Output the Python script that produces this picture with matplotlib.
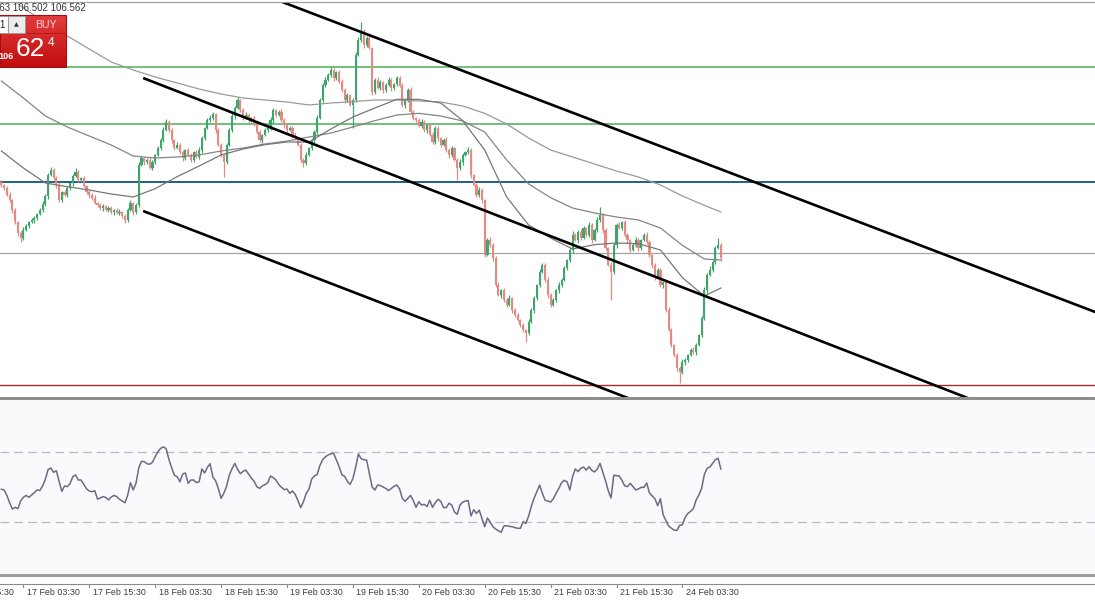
import matplotlib
matplotlib.use("Agg")
import matplotlib.pyplot as plt
import numpy as np
from matplotlib.patches import Rectangle
from matplotlib.transforms import blended_transform_factory

plt.rcParams['font.family'] = ['Liberation Sans', 'DejaVu Sans']

# ---------------- data (30-minute bars, price) ----------------
first_open = 106.774
closes = [
    106.765, 106.756, 106.735, 106.720, 106.690, 106.654, 106.621, 106.606, 106.630, 106.642,
    106.654, 106.660, 106.666, 106.678, 106.690, 106.708, 106.732, 106.795, 106.810, 106.786,
    106.765, 106.720, 106.744, 106.735, 106.756, 106.771, 106.792, 106.804, 106.780, 106.786,
    106.762, 106.744, 106.735, 106.726, 106.711, 106.705, 106.696, 106.702, 106.690, 106.696,
    106.684, 106.690, 106.681, 106.684, 106.672, 106.660, 106.690, 106.711, 106.684, 106.705,
    106.825, 106.846, 106.834, 106.840, 106.816, 106.834, 106.855, 106.876, 106.900, 106.930,
    106.954, 106.930, 106.900, 106.876, 106.885, 106.864, 106.846, 106.870, 106.855, 106.840,
    106.864, 106.849, 106.870, 106.906, 106.936, 106.960, 106.966, 106.978, 106.930, 106.885,
    106.855, 106.834, 106.885, 106.930, 106.972, 106.996, 107.020, 106.990, 106.966, 106.975,
    106.960, 106.966, 106.945, 106.924, 106.900, 106.915, 106.930, 106.936, 106.960, 106.990,
    106.975, 106.984, 106.960, 106.945, 106.930, 106.936, 106.915, 106.906, 106.885, 106.840,
    106.831, 106.855, 106.876, 106.900, 106.924, 106.966, 107.020, 107.065, 107.080, 107.095,
    107.110, 107.086, 107.104, 107.074, 107.050, 107.020, 107.035, 107.005, 107.020, 107.155,
    107.200, 107.224, 107.185, 107.206, 107.176, 107.044, 107.080, 107.056, 107.074, 107.050,
    107.065, 107.080, 107.056, 107.068, 107.086, 107.062, 107.005, 107.020, 107.050, 106.984,
    106.966, 106.960, 106.942, 106.954, 106.930, 106.945, 106.915, 106.894, 106.936, 106.906,
    106.885, 106.900, 106.870, 106.855, 106.876, 106.840, 106.816, 106.834, 106.855, 106.864,
    106.870, 106.795, 106.765, 106.735, 106.750, 106.720, 106.555, 106.600, 106.585, 106.546,
    106.465, 106.435, 106.450, 106.420, 106.405, 106.426, 106.390, 106.375, 106.360, 106.345,
    106.330, 106.321, 106.354, 106.390, 106.426, 106.465, 106.504, 106.525, 106.480, 106.435,
    106.405, 106.420, 106.450, 106.465, 106.480, 106.516, 106.540, 106.570, 106.615, 106.600,
    106.624, 106.606, 106.636, 106.615, 106.645, 106.600, 106.630, 106.660, 106.675, 106.630,
    106.576, 106.525, 106.504, 106.585, 106.645, 106.636, 106.654, 106.615, 106.600, 106.570,
    106.585, 106.600, 106.576, 106.600, 106.615, 106.594, 106.555, 106.525, 106.486, 106.510,
    106.465, 106.474, 106.390, 106.330, 106.285, 106.255, 106.216, 106.204, 106.234, 106.240,
    106.255, 106.270, 106.264, 106.285, 106.315, 106.366, 106.450, 106.495, 106.510, 106.534,
    106.576, 106.585, 106.546,
]
# wick extents beyond the body, in 0.001 price units
upper_wick = [
    6, 3, 6, 9, 3, 6, 3, 6, 9, 6,  3, 6, 6, 3, 6, 9, 6, 6, 9, 6,
    6, 9, 3, 6, 6, 3, 6, 12, 6, 3,  6, 3, 6, 6, 9, 3, 6, 6, 3, 6,
    6, 3, 6, 9, 3, 6, 6, 9, 3, 6,  9, 6, 3, 6, 9, 6, 3, 6, 6, 9,
    9, 6, 6, 3, 9, 6, 6, 3, 6, 6,  3, 6, 9, 6, 3, 6, 9, 6, 3, 6,
    6, 3, 6, 6, 9, 6, 9, 3, 6, 9,  6, 3, 6, 9, 6, 3, 6, 6, 9, 6,
    3, 6, 9, 6, 3, 6, 6, 9, 3, 6,  6, 9, 3, 6, 6, 9, 6, 6, 9, 6,
    9, 6, 3, 6, 9, 6, 6, 3, 6, 9,  9, 30, 9, 6, 6, 3, 6, 9, 6, 3,
    6, 9, 6, 3, 6, 6, 9, 3, 6, 9,  6, 3, 6, 9, 6, 3, 6, 9, 6, 6,
    3, 6, 9, 6, 6, 3, 6, 9, 6, 3,  9, 6, 3, 6, 9, 6, 3, 6, 9, 6,
    6, 9, 3, 6, 6, 9, 3, 6, 6, 3,  6, 3, 9, 6, 6, 3, 9, 6, 6, 9,
    6, 6, 3, 9, 6, 6, 3, 9, 12, 6,  6, 9, 6, 3, 9, 6, 6, 9, 24, 6,
    6, 3, 9, 6, 6, 9, 3, 6, 6, 3,  6, 9, 6, 3, 6, 9, 6, 3, 6, 6,
    6, 3, 6, 9, 6, 3, 6, 6, 9, 6,  3, 6, 9, 6, 3, 6, 9, 6, 12, 6,
    6, 21, 6,
]
lower_wick = [
    6, 6, 3, 6, 9, 6, 9, 12, 6, 3,  6, 3, 9, 6, 3, 6, 6, 9, 3, 6,
    9, 6, 6, 3, 6, 6, 9, 3, 6, 6,  3, 6, 9, 6, 3, 6, 6, 9, 3, 6,
    6, 9, 3, 6, 6, 9, 6, 3, 9, 6,  6, 3, 9, 6, 3, 6, 6, 3, 6, 6,
    3, 6, 9, 6, 3, 6, 9, 6, 3, 6,  6, 3, 6, 9, 6, 3, 6, 6, 9, 3,
    6, 45, 6, 3, 6, 9, 3, 6, 6, 3,  9, 6, 3, 6, 6, 9, 3, 6, 6, 9,
    6, 3, 6, 9, 6, 3, 9, 6, 3, 6,  12, 6, 3, 6, 9, 6, 3, 6, 6, 3,
    6, 9, 6, 3, 6, 9, 6, 3, 69, 6,  3, 6, 9, 6, 3, 9, 6, 3, 6, 9,
    6, 3, 9, 6, 6, 3, 6, 9, 6, 3,  6, 9, 3, 6, 6, 9, 3, 6, 6, 9,
    6, 3, 6, 9, 6, 3, 36, 6, 9, 3,  6, 9, 3, 6, 6, 9, 6, 3, 6, 9,
    6, 3, 9, 6, 6, 3, 9, 6, 3, 6,  6, 27, 6, 3, 9, 6, 6, 3, 6, 9,
    6, 3, 6, 9, 6, 3, 6, 6, 9, 3,  9, 6, 3, 6, 6, 9, 3, 6, 6, 9,
    6, 3, 84, 6, 9, 3, 6, 6, 9, 6,  3, 6, 9, 6, 3, 6, 6, 9, 6, 3,
    6, 9, 6, 3, 6, 6, 9, 33, 6, 9,  6, 3, 6, 9, 3, 6, 6, 9, 3, 6,
    6, 3, 9,
]
rsi = [
    48.7, 48.3, 45.2, 41.0, 37.4, 38.4, 37.6, 42.0, 44.1, 45.2,
    44.1, 45.4, 46.8, 48.3, 48.0, 50.6, 54.4, 59.9, 60.9, 58.4,
    59.3, 53.4, 47.5, 50.6, 50.2, 51.9, 55.9, 56.9, 54.0, 54.0,
    51.5, 49.0, 47.7, 47.3, 47.9, 43.1, 43.7, 44.5, 44.0, 42.6,
    44.3, 45.2, 44.5, 43.0, 42.0, 41.0, 45.4, 52.5, 48.3, 52.1,
    60.7, 64.7, 64.5, 63.3, 63.0, 64.1, 67.3, 70.2, 72.1, 72.9,
    71.9, 65.8, 61.0, 56.7, 55.9, 53.0, 57.4, 58.0, 52.1, 54.0,
    54.0, 52.5, 53.0, 60.3, 58.0, 61.2, 63.3, 55.7, 53.6, 49.2,
    43.5, 46.4, 50.4, 56.8, 60.5, 63.5, 60.1, 57.6, 58.9, 59.7,
    57.4, 55.1, 53.4, 50.2, 49.2, 50.6, 51.3, 52.5, 56.3, 55.3,
    54.0, 51.5, 49.8, 48.5, 48.8, 46.4, 47.7, 45.8, 42.2, 38.2,
    41.6, 46.4, 48.7, 54.6, 56.3, 57.2, 62.4, 65.6, 67.3, 68.3,
    69.0, 69.2, 65.4, 61.6, 56.9, 56.1, 53.2, 51.5, 54.8, 61.2,
    68.9, 66.2, 65.6, 65.4, 57.6, 50.0, 48.3, 51.1, 50.8, 50.0,
    49.2, 47.9, 49.2, 50.4, 51.1, 48.9, 43.5, 41.8, 43.5, 45.2,
    42.2, 38.4, 41.6, 39.7, 40.1, 38.8, 42.4, 38.4, 41.0, 43.0,
    41.8, 38.2, 38.2, 40.7, 39.7, 35.7, 34.4, 39.7, 41.4, 42.0,
    42.2, 33.4, 37.0, 34.9, 36.8, 32.1, 27.3, 32.3, 30.0, 27.3,
    26.0, 25.0, 24.1, 27.7, 27.9, 27.5, 27.3, 26.8, 26.4, 26.4,
    30.2, 29.2, 33.4, 39.1, 43.7, 47.3, 51.1, 46.4, 42.4, 42.0,
    41.4, 43.3, 46.4, 49.2, 52.5, 53.8, 53.0, 48.3, 55.9, 60.3,
    58.8, 60.7, 61.4, 59.7, 61.6, 59.5, 58.6, 60.3, 63.5, 58.6,
    53.6, 47.9, 43.7, 56.7, 56.5, 56.3, 53.8, 50.6, 50.2, 52.1,
    50.2, 48.3, 48.9, 49.8, 49.8, 52.3, 46.6, 44.9, 43.2, 39.3,
    43.3, 34.0, 30.8, 27.7, 26.4, 25.4, 25.2, 28.1, 28.5, 32.7,
    34.9, 36.1, 37.6, 42.6, 45.4, 49.2, 57.2, 60.7, 61.4, 63.5,
    65.6, 66.4, 60.3,
]
# moving averages every 8 bars
ma_bars = [0, 8, 16, 24, 32, 40, 48, 56, 64, 72, 80, 88, 96, 104, 112, 120, 128,
           136, 144, 152, 160, 168, 176, 184, 192, 200, 208, 216, 224, 232, 240, 248, 256, 262]
ma_long = [107.350, 107.296, 107.251, 107.212, 107.173, 107.134, 107.110, 107.089, 107.071,
           107.053, 107.038, 107.026, 107.020, 107.014, 107.005, 107.011, 107.015, 107.020,
           107.020, 107.017, 107.014, 107.002, 106.980, 106.948, 106.906, 106.870, 106.849,
           106.828, 106.807, 106.789, 106.765, 106.732, 106.704, 106.684]
ma_mid = [107.077, 107.026, 106.972, 106.939, 106.912, 106.885, 106.852, 106.846, 106.849,
          106.855, 106.867, 106.876, 106.888, 106.897, 106.909, 106.921, 106.939, 106.958,
          106.975, 106.980, 106.972, 106.957, 106.924, 106.840, 106.768, 106.727, 106.696,
          106.681, 106.669, 106.660, 106.636, 106.584, 106.543, 106.540]
ma_short = [106.867, 106.816, 106.771, 106.760, 106.750, 106.738, 106.729, 106.754, 106.790,
            106.822, 106.855, 106.873, 106.886, 106.894, 106.894, 106.933, 106.969, 106.996,
            107.022, 107.022, 107.011, 106.958, 106.870, 106.729, 106.645, 106.606, 106.573,
            106.586, 106.591, 106.589, 106.570, 106.487, 106.432, 106.456]
# horizontal levels: resistance 1, resistance 2, pivot, current price, support
level_prices = [107.119, 106.948, 106.774, 106.562, 106.165]
# channel trendlines: (bar, price) start and end
channel_lines = [((100.4, 107.320), (405.0, 106.363)),
                 ((51.6, 107.086), (360.0, 106.100)),
                 ((51.6, 106.687), (236.0, 106.101))]
rsi_levels = [70, 30]
tick_bars = [-16, 8, 32, 56, 80, 104, 128, 152, 176, 200, 224, 248]
tick_labels = ["16 Feb 15:30", "17 Feb 03:30", "17 Feb 15:30", "18 Feb 03:30", "18 Feb 15:30",
               "19 Feb 03:30", "19 Feb 15:30", "20 Feb 03:30", "20 Feb 15:30", "21 Feb 03:30",
               "21 Feb 15:30", "24 Feb 03:30"]
ohlc_text = "106.563 106.502 106.562"
bid_big, bid_small, bid_prefix = "62", "4", "106"

# ---------------- figure ----------------
W, H = 1095, 600
fig = plt.figure(figsize=(W / 100, H / 100), dpi=100)
fig.patch.set_facecolor('white')


def pix_axes(x0, y0, x1, y1):
    return fig.add_axes([x0 / W, 1 - y1 / H, (x1 - x0) / W, (y1 - y0) / H])


XL = (-0.51, 398.25)
UP, DN = '#3fa56c', '#e58983'

# main price panel
ax = pix_axes(0, 2, W, 398)
ax.set_xlim(*XL)
ax.set_ylim(106.126, 107.314)
ax.axis('off')

lvl_colors = ['#4cae57', '#4cae57', '#1f5f86', '#a3a3a3', '#b42b2b']
lvl_lw = [1.1, 1.1, 1.4, 0.9, 1.0]
for p, col, lw in zip(level_prices, lvl_colors, lvl_lw):
    ax.axhline(p, color=col, lw=lw, zorder=2)

idx = np.arange(len(closes))
c = np.array(closes)
o = np.array([first_open] + closes[:-1])
hi = np.maximum(o, c) + np.array(upper_wick) * 0.001
lo = np.minimum(o, c) - np.array(lower_wick) * 0.001
cols = np.where(c >= o, UP, DN)
ax.vlines(idx, lo, hi, colors=cols, lw=0.9, zorder=3)
ax.bar(idx, np.maximum(np.abs(c - o), 0.002), bottom=np.minimum(o, c), width=0.78,
       color=cols, linewidth=0, zorder=4)

for vals, col in [(ma_long, '#9a9a9a'), (ma_mid, '#858585'), (ma_short, '#777777')]:
    ax.plot(ma_bars, vals, color=col, lw=0.9, zorder=5)

for (x0, y0), (x1, y1) in channel_lines:
    ax.plot([x0, x1], [y0, y1], color='black', lw=1.9, zorder=6, solid_capstyle='butt')

# RSI panel
ar = pix_axes(0, 399.5, W, 574.5)
ar.set_xlim(*XL)
ar.set_ylim(0, 100)
ar.set_facecolor('#f9fafc')
for s in ar.spines.values():
    s.set_visible(False)
ar.set_xticks([])
ar.set_yticks([])
for lv in rsi_levels:
    ar.axhline(lv, color='#b8b8c8', lw=0.9, dashes=(7, 4))
ar.plot(idx, rsi, color='#6b6b86', lw=1.1)

# overlay in pixel coordinates
ov = fig.add_axes([0, 0, 1, 1])
ov.set_xlim(0, W)
ov.set_ylim(H, 0)
ov.axis('off')
ov.patch.set_alpha(0)

ov.plot([0, W], [1.5, 1.5], color='#9c9c9c', lw=0.8)
ov.add_patch(Rectangle((0, 397.3), W, 3.0, color='#8d8d8d', lw=0))
ov.add_patch(Rectangle((0, 574.0), W, 3.3, color='#9e9e9e', lw=0))
ov.plot([0, W], [583.5, 583.5], color='#8a8a8a', lw=0.8)

tr = blended_transform_factory(ax.transData, ov.transData)
for b, lab in zip(tick_bars, tick_labels):
    ov.plot([b, b], [583.5, 587], color='#8a8a8a', lw=0.8, transform=tr, clip_on=False)
    ov.annotate(lab, xy=(b, 592.5), xycoords=tr, xytext=(3.5, 0), textcoords='offset pixels',
                ha='left', va='center', fontsize=6.4, color='#3c3c3c', annotation_clip=False)

# OHLC text top-left
ov.text(86, 8, ohlc_text, ha='right', va='center', fontsize=7, color='#333333')

# BUY box
grad = np.linspace(0, 1, 60)[:, None]
top_c = np.array([0.89, 0.24, 0.24])
bot_c = np.array([0.76, 0.05, 0.05])
img = top_c[None, None, :] * (1 - grad[:, :, None]) + bot_c[None, None, :] * grad[:, :, None]
ov.imshow(img, extent=(0, 66, 67, 15), aspect='auto', origin='upper', zorder=10)
ov.set_xlim(0, W)
ov.set_ylim(H, 0)
ov.add_patch(Rectangle((0, 15), 66, 52, fill=False, ec='#a01010', lw=0.8, zorder=11))
ov.plot([26, 66], [33, 33], color='#b01818', lw=0.6, zorder=11)
ov.add_patch(Rectangle((-2, 16), 10, 17, fc='white', ec='#9a9a9a', lw=0.7, zorder=11))
ov.add_patch(Rectangle((8, 16), 17, 17, fc='#ececec', ec='#9a9a9a', lw=0.7, zorder=11))
ov.text(16.5, 24.5, '\u25B2', ha='center', va='center', fontsize=4.5, color='#333333',
        family='DejaVu Sans', zorder=12)
ov.text(5, 24.5, '1', ha='right', va='center', fontsize=7, color='#222222', zorder=12)
ov.text(46, 24.5, 'BUY', ha='center', va='center', fontsize=7.6, color='#ffd6d6', zorder=12)
ov.text(45, 49.5, bid_big, ha='right', va='center', fontsize=19, color='white', zorder=12)
ov.text(48, 43, bid_small, ha='left', va='center', fontsize=8.5, color='white', zorder=12)
ov.text(14, 56.5, bid_prefix, ha='right', va='center', fontsize=6.5, color='white',
        fontweight='bold', zorder=12)

fig.savefig('out.png', dpi=100, facecolor='white')
